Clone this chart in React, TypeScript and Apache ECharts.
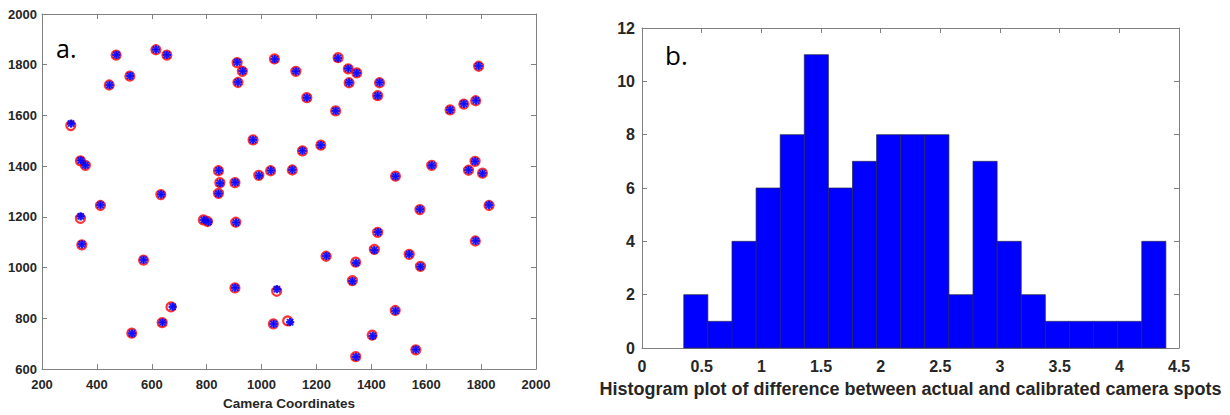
import React, { useEffect, useRef } from "react";
import * as echarts from "echarts";

// Panel a: actual spot positions (red circles) and calibrated positions (blue asterisks)
const actualX = [305, 340, 358, 445, 470, 520, 615, 655, 633, 413, 843, 848, 843, 903, 911, 930, 914, 969, 990, 1033, 1047, 1112, 1125, 1165, 1270, 1279, 1316, 1347, 1319, 1430, 1423, 1791, 1687, 1737, 1780, 1216, 1149, 1620, 1488, 1778, 1754, 1805, 1829, 1577, 340, 345, 570, 788, 803, 906, 903, 1055, 1043, 1095, 670, 638, 527, 1235, 1343, 1331, 1423, 1411, 1538, 1579, 1779, 1487, 1403, 1343, 1562];
const actualY = [1560, 1421, 1403, 1720, 1838, 1755, 1859, 1838, 1288, 1245, 1382, 1335, 1293, 1335, 1808, 1774, 1730, 1504, 1364, 1382, 1823, 1385, 1774, 1670, 1618, 1828, 1784, 1768, 1729, 1729, 1678, 1794, 1622, 1645, 1658, 1483, 1460, 1403, 1361, 1419, 1384, 1373, 1245, 1229, 1194, 1090, 1030, 1188, 1182, 1179, 920, 907, 778, 790, 845, 783, 742, 1045, 1022, 949, 1139, 1072, 1052, 1005, 1105, 831, 734, 649, 676];
const calibX = [306, 341, 358, 446, 471, 521, 615, 655, 634, 413, 844, 849, 843, 904, 911, 931, 914, 969, 991, 1034, 1048, 1112, 1125, 1165, 1270, 1278, 1316, 1347, 1319, 1430, 1423, 1791, 1687, 1737, 1781, 1216, 1149, 1620, 1488, 1778, 1754, 1805, 1829, 1577, 341, 345, 570, 790, 806, 907, 904, 1056, 1044, 1104, 676, 639, 528, 1236, 1344, 1331, 1424, 1411, 1538, 1579, 1780, 1488, 1405, 1344, 1562];
const calibY = [1568, 1423, 1404, 1720, 1839, 1756, 1860, 1839, 1289, 1247, 1383, 1333, 1292, 1336, 1810, 1775, 1731, 1504, 1363, 1383, 1822, 1386, 1774, 1670, 1618, 1826, 1785, 1768, 1730, 1730, 1678, 1795, 1622, 1646, 1659, 1483, 1461, 1403, 1360, 1419, 1385, 1372, 1247, 1230, 1202, 1092, 1031, 1188, 1180, 1178, 921, 915, 778, 785, 846, 784, 741, 1046, 1019, 947, 1140, 1069, 1053, 1004, 1106, 830, 731, 648, 677];

// Panel b: histogram bin edges and counts
const binEdges = [0.35, 0.552, 0.754, 0.956, 1.158, 1.36, 1.562, 1.764, 1.966, 2.168, 2.37, 2.572, 2.774, 2.976, 3.178, 3.38, 3.582, 3.784, 3.986, 4.188, 4.39];
const binCounts = [2, 1, 4, 6, 8, 11, 6, 7, 8, 8, 8, 2, 7, 4, 2, 1, 1, 1, 1, 4];

const xTicksA = { min: 200, max: 2000, interval: 200 };
const yTicksA = { min: 600, max: 2000, interval: 200 };
const xTicksB = { min: 0, max: 4.5, interval: 0.5 };
const yTicksB = { min: 0, max: 12, interval: 2 };

const xLabelA = "Camera Coordinates";
const xLabelB = "Histogram plot of difference between actual and calibrated camera spots";

const AXIS_COLOR = "#808080";
const LABEL_COLOR = "#262626";
const FONT = "'Liberation Sans', Arial, sans-serif";

const asteriskPath =
  "path://M0,4.2H10V5.8H0Z M4.2,0H5.8V10H4.2Z M1.5,0.9L9.1,8.5L8.5,9.1L0.9,1.5Z M8.5,0.9L9.1,1.5L1.5,9.1L0.9,8.5Z";

function axisBase(range: any, gridIndex: number, position: string, showLabel: boolean, fontSize: number, margin: number) {
  return {
    type: "value",
    gridIndex,
    position,
    min: range.min,
    max: range.max,
    interval: range.interval,
    axisLine: { show: true, onZero: false, lineStyle: { color: AXIS_COLOR, width: 1 } },
    axisTick: { show: true, inside: true, length: 5, lineStyle: { color: AXIS_COLOR } },
    splitLine: { show: false },
    axisLabel: {
      show: showLabel,
      color: LABEL_COLOR,
      fontWeight: "bold",
      fontSize,
      fontFamily: FONT,
      margin,
      formatter: (v: number) => "{b|" + String(v) + "}",
      rich: {
        b: { fontWeight: "bold", fontSize, fontFamily: FONT, color: LABEL_COLOR },
      },
    },
  };
}

export default function App() {
  const ref = useRef<HTMLDivElement>(null);

  useEffect(() => {
    if (!ref.current) return;
    const chart = echarts.init(ref.current, undefined, { renderer: "svg" });

    const actualData = actualX.map((x, i) => [x, actualY[i]]);
    const calibData = calibX.map((x, i) => [x, calibY[i]]);
    const histData = binCounts.map((c, i) => [binEdges[i], binEdges[i + 1], c]);

    const xA = axisBase(xTicksA, 0, "bottom", true, 13, 9) as any;
    xA.name = xLabelA;
    xA.nameLocation = "middle";
    xA.nameGap = 26;
    xA.nameTextStyle = { color: LABEL_COLOR, fontWeight: "bold", fontSize: 13.5, fontFamily: FONT };

    const xB = axisBase(xTicksB, 1, "bottom", true, 16, 10) as any;
    xB.name = xLabelB;
    xB.nameLocation = "middle";
    xB.nameGap = 32;
    xB.nameTextStyle = { color: LABEL_COLOR, fontWeight: "bold", fontSize: 18, fontFamily: FONT };

    chart.setOption({
      animation: false,
      backgroundColor: "#ffffff",
      grid: [
        { left: 42, top: 14, width: 494, height: 362 },
        { left: 642, top: 28, width: 537, height: 320 },
      ],
      xAxis: [
        xA,
        axisBase(xTicksA, 0, "top", false, 13, 9),
        xB,
        axisBase(xTicksB, 1, "top", false, 16, 10),
      ],
      yAxis: [
        axisBase(yTicksA, 0, "left", true, 13, 5),
        axisBase(yTicksA, 0, "right", false, 13, 5),
        axisBase(yTicksB, 1, "left", true, 16, 7),
        axisBase(yTicksB, 1, "right", false, 16, 7),
      ],
      series: [
        {
          type: "scatter",
          xAxisIndex: 0,
          yAxisIndex: 0,
          data: actualData,
          symbol: "circle",
          symbolSize: 9,
          itemStyle: { color: "rgba(255,255,255,0)", borderColor: "#ff0000", borderWidth: 2.2 },
          z: 2,
        },
        {
          type: "scatter",
          xAxisIndex: 0,
          yAxisIndex: 0,
          data: calibData,
          symbol: asteriskPath,
          symbolSize: 7,
          itemStyle: { color: "#0000ff", borderColor: "#0000ff", borderWidth: 1.3 },
          z: 3,
        },
        {
          type: "custom",
          xAxisIndex: 2,
          yAxisIndex: 2,
          data: histData,
          renderItem: (params: any, api: any) => {
            const x0 = api.value(0);
            const x1 = api.value(1);
            const c = api.value(2);
            const p0 = api.coord([x0, c]);
            const p1 = api.coord([x1, 0]);
            return {
              type: "rect",
              shape: { x: p0[0], y: p0[1], width: p1[0] - p0[0], height: p1[1] - p0[1] },
              style: { fill: "#0000ff", stroke: "#26264d", lineWidth: 0.7 },
            };
          },
          z: 2,
        },
      ],
      graphic: [
        {
          type: "text",
          left: 56,
          top: 35,
          style: { text: "a.", fontSize: 25, fontFamily: "'Open Sans', sans-serif", fill: "#000000" },
        },
        {
          type: "text",
          left: 665,
          top: 42,
          style: { text: "b.", fontSize: 26, fontFamily: "'Open Sans', sans-serif", fill: "#000000" },
        },
      ],
    });

    return () => chart.dispose();
  }, []);

  return (
    <div
      ref={ref}
      style={{ position: "fixed", left: 0, top: 0, width: 1230, height: 415, background: "#fff" }}
    />
  );
}
